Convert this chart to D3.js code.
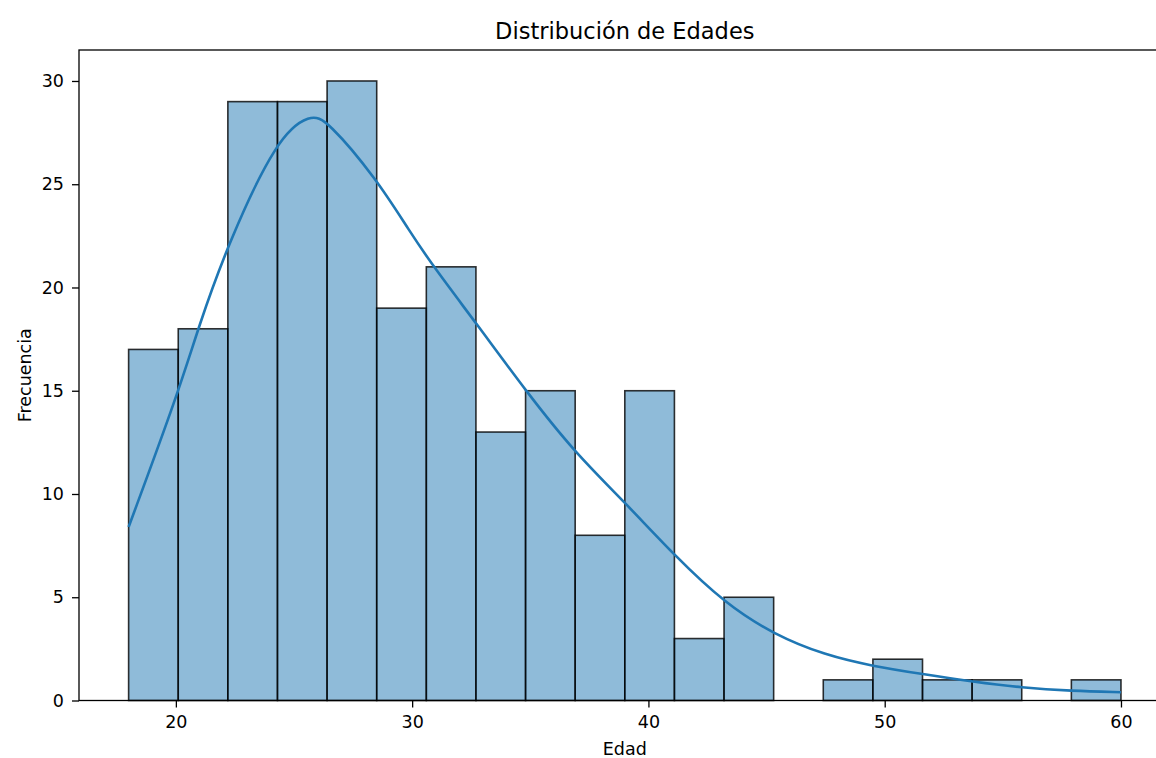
<!DOCTYPE html>
<html>
<head>
<meta charset="utf-8">
<script src="https://cdn.jsdelivr.net/npm/d3@7"></script>
<style>
  body { margin: 0; background: #fff; }
  svg { display: block; font-family: "DejaVu Sans", sans-serif; }
</style>
</head>
<body>
<svg id="chart"></svg>
<script>
// histogram: bin edges and counts
const binEdges = [18, 20.1, 22.2, 24.3, 26.4, 28.5, 30.6, 32.7, 34.8, 36.9, 39,
                  41.1, 43.2, 45.3, 47.4, 49.5, 51.6, 53.7, 55.8, 57.9, 60];
const counts = [17, 18, 29, 29, 30, 19, 21, 13, 15, 8, 15, 3, 5, 0, 1, 2, 1, 1, 0, 1];

// kde curve (age, frequency)
const kdeAges = [18, 20.1, 20.96, 22.2, 24.3, 25.7, 26.4, 28.5, 29.9, 30.97,
                 32.73, 34.85, 36.89, 39, 41.12, 43.24, 45.35, 47.47, 49.5,
                 51.6, 53.75, 55.8, 57.9, 60];
const kdeValues = [8.4, 14.9, 18.1, 22.1, 27.3, 28.4, 28.1, 25.25, 22.7, 20.9,
                   18.24, 14.93, 12.0, 9.6, 7.0, 4.7, 3.17, 2.2, 1.66,
                   1.28, 0.91, 0.62, 0.46, 0.40];

const xTicks = [20, 30, 40, 50, 60];
const yTicks = [0, 5, 10, 15, 20, 25, 30];

const width = 1156, height = 758;
const plot = {left: 79, right: 1170.6, top: 50, bottom: 700.5};

const svg = d3.select('#chart')
    .attr('width', width)
    .attr('height', height);

const x = d3.scaleLinear().domain([15.9, 62.1]).range([plot.left, plot.right]);
const y = d3.scaleLinear().domain([0, 31.5]).range([plot.bottom, plot.top]);

const bins = counts.map((c, i) => ({x0: binEdges[i], x1: binEdges[i + 1], count: c}));

svg.append('g')
    .selectAll('rect')
    .data(bins.filter(d => d.count > 0))
    .enter()
    .append('rect')
    .attr('x', d => x(d.x0))
    .attr('y', d => y(d.count))
    .attr('width', d => x(d.x1) - x(d.x0))
    .attr('height', d => y(0) - y(d.count))
    .attr('fill', '#1f77b4')
    .attr('fill-opacity', 0.5)
    .attr('stroke', '#000')
    .attr('stroke-opacity', 0.8)
    .attr('stroke-width', 1.6);

const line = d3.line()
    .x(d => x(d[0]))
    .y(d => y(d[1]))
    .curve(d3.curveBasis);

svg.append('path')
    .datum(kdeAges.map((a, i) => [a, kdeValues[i]]))
    .attr('d', line)
    .attr('fill', 'none')
    .attr('stroke', '#1f77b4')
    .attr('stroke-width', 2.6);

// axes
const xAxis = svg.append('g')
    .attr('transform', `translate(0,${plot.bottom})`)
    .call(d3.axisBottom(x).tickValues(xTicks).tickSize(7).tickPadding(8));

const yAxis = svg.append('g')
    .attr('transform', `translate(${plot.left},0)`)
    .call(d3.axisLeft(y).tickValues(yTicks).tickSize(7).tickPadding(8));

[xAxis, yAxis].forEach(g => {
    g.select('.domain').remove();
    g.selectAll('.tick line').attr('stroke', '#000').attr('stroke-width', 1.3);
    g.selectAll('.tick text')
        .attr('fill', '#000')
        .attr('font-size', '17.5px')
        .attr('font-family', '"DejaVu Sans", sans-serif');
});

// spines
svg.append('rect')
    .attr('x', plot.left)
    .attr('y', plot.top)
    .attr('width', plot.right - plot.left)
    .attr('height', plot.bottom - plot.top)
    .attr('fill', 'none')
    .attr('stroke', '#000')
    .attr('stroke-width', 1.3);

svg.append('text')
    .attr('x', (plot.left + plot.right) / 2)
    .attr('y', 38.5)
    .attr('text-anchor', 'middle')
    .attr('font-size', '22.5px')
    .attr('fill', '#000')
    .text('Distribución de Edades');

svg.append('text')
    .attr('x', (plot.left + plot.right) / 2)
    .attr('y', 755)
    .attr('text-anchor', 'middle')
    .attr('font-size', '17.5px')
    .attr('fill', '#000')
    .text('Edad');

svg.append('text')
    .attr('transform', `translate(31,${(plot.top + plot.bottom) / 2}) rotate(-90)`)
    .attr('text-anchor', 'middle')
    .attr('font-size', '17.5px')
    .attr('fill', '#000')
    .text('Frecuencia');
</script>
</body>
</html>
